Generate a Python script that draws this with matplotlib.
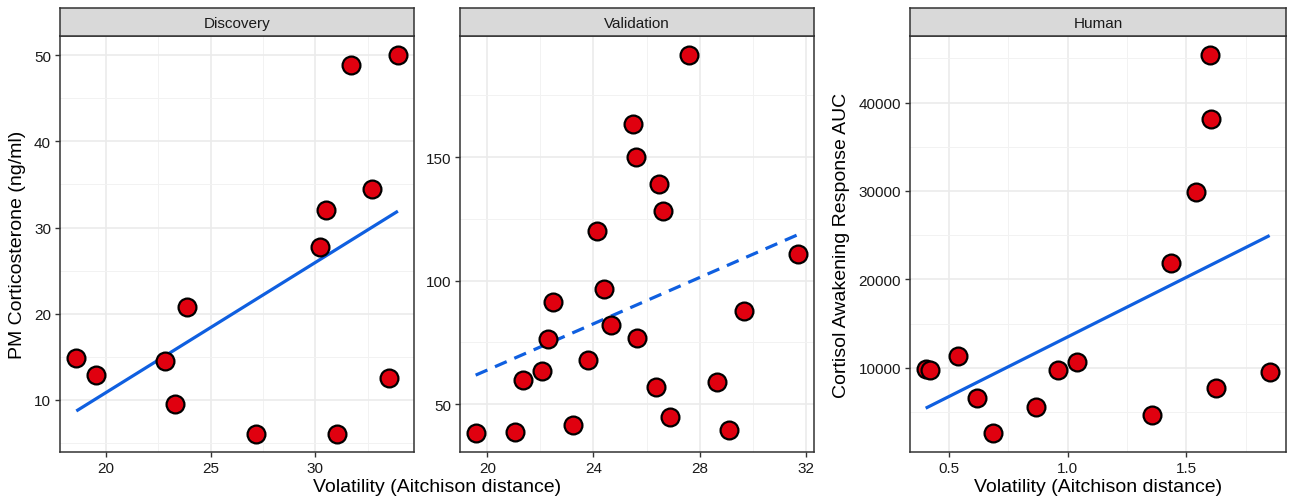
import matplotlib.pyplot as plt
import numpy as np
from matplotlib import ticker

# Discovery cohort
disc_x = [18.58, 19.51, 22.83, 23.30, 23.87, 27.15, 30.22, 30.51, 31.02, 31.70, 32.72, 33.54, 33.95]
disc_y = [14.85, 12.83, 14.46, 9.50, 20.81, 6.06, 27.70, 32.04, 6.06, 48.92, 34.48, 12.49, 50.0]

# Validation cohort
val_x = [19.56, 21.06, 21.33, 22.07, 22.27, 22.46, 23.22, 23.78, 24.12, 24.40, 24.67, 25.48,
         25.62, 25.65, 26.35, 26.48, 26.63, 26.87, 27.60, 28.67, 29.10, 29.66, 31.70]
val_y = [38.1, 38.8, 59.6, 63.6, 76.3, 91.3, 41.5, 67.8, 120.2, 96.6, 82.1, 163.4,
         150.1, 76.6, 57.0, 139.1, 128.1, 44.9, 191.4, 58.8, 39.5, 87.9, 111.0]

# Human cohort
hum_x = [0.402, 0.420, 0.537, 0.618, 0.687, 0.868, 0.961, 1.039, 1.355, 1.434, 1.538,
         1.597, 1.603, 1.626, 1.850]
hum_y = [9883, 9695, 11353, 6566, 2571, 5511, 9733, 10637, 4606, 21832, 29860,
         45390, 38191, 7697, 9544]

plt.rcParams['font.family'] = ['Liberation Sans', 'DejaVu Sans']

fig = plt.figure(figsize=(12.89, 5.02), dpi=100)

W, H = 1289, 502
top, bottom = 37, 453
strip_h = 28


def px_axes(left, right):
    return fig.add_axes([left / W, 1 - bottom / H, (right - left) / W, (bottom - top) / H])


def panel(ax, x, y, title, xlim, ylim, xmaj, ymaj, dashed=False):
    ax.set_xlim(*xlim)
    ax.set_ylim(*ylim)
    ax.xaxis.set_major_locator(ticker.MultipleLocator(xmaj))
    ax.xaxis.set_minor_locator(ticker.MultipleLocator(xmaj / 2))
    ax.yaxis.set_major_locator(ticker.MultipleLocator(ymaj))
    ax.yaxis.set_minor_locator(ticker.MultipleLocator(ymaj / 2))
    ax.grid(True, which='major', color='#EBEBEB', linewidth=1.2, zorder=0)
    ax.grid(True, which='minor', color='#F2F2F2', linewidth=0.7, zorder=0)
    ax.set_axisbelow(True)
    for s in ax.spines.values():
        s.set_color('#333333')
        s.set_linewidth(1.1)
    ax.tick_params(which='major', length=3.5, width=1, color='#333333',
                   labelsize=11, labelcolor='#1A1A1A', pad=3)
    ax.tick_params(which='minor', length=0)

    # linear fit, like geom_smooth(method = "lm", se = FALSE)
    k, b = np.polyfit(x, y, 1)
    xs = np.array([min(x), max(x)])
    ax.plot(xs, k * xs + b, color='#0F5FE0', linewidth=2.3,
            linestyle=(0, (4, 2.6)) if dashed else '-', zorder=2,
            solid_capstyle='butt', dash_capstyle='butt')
    ax.scatter(x, y, s=165, color='#E0000F', edgecolor='black', linewidth=1.6, zorder=3)

    # facet strip
    pos = ax.get_position()
    sax = fig.add_axes([pos.x0, pos.y1, pos.width, strip_h / H])
    sax.set_facecolor('#D9D9D9')
    sax.set_xticks([])
    sax.set_yticks([])
    for s in sax.spines.values():
        s.set_color('#333333')
        s.set_linewidth(1.1)
    sax.text(0.5, 0.47, title, ha='center', va='center', fontsize=11, color='#1A1A1A',
             transform=sax.transAxes)


ax1 = px_axes(60, 414)
panel(ax1, disc_x, disc_y, 'Discovery', (17.8, 34.72), (3.93, 52.24), 5, 10)
ax1.set_ylabel('PM Corticosterone (ng/ml)', fontsize=14, labelpad=6)

ax2 = px_axes(460, 814)
panel(ax2, val_x, val_y, 'Validation', (18.97, 32.31), (30.6, 199.1), 4, 50, dashed=True)

ax3 = px_axes(910, 1286)
panel(ax3, hum_x, hum_y, 'Human', (0.336, 1.919), (464, 47538), 0.5, 10000)
ax3.xaxis.set_major_formatter(ticker.FormatStrFormatter('%.1f'))
ax3.set_ylabel('Cortisol Awakening Response AUC', fontsize=14, labelpad=6)

fig.text(437 / W, 1 - 488 / H, 'Volatility (Aitchison distance)', ha='center', va='center',
         fontsize=14)
ax3.set_xlabel('Volatility (Aitchison distance)', fontsize=14, labelpad=2)

fig.savefig('out.png', dpi=100)
